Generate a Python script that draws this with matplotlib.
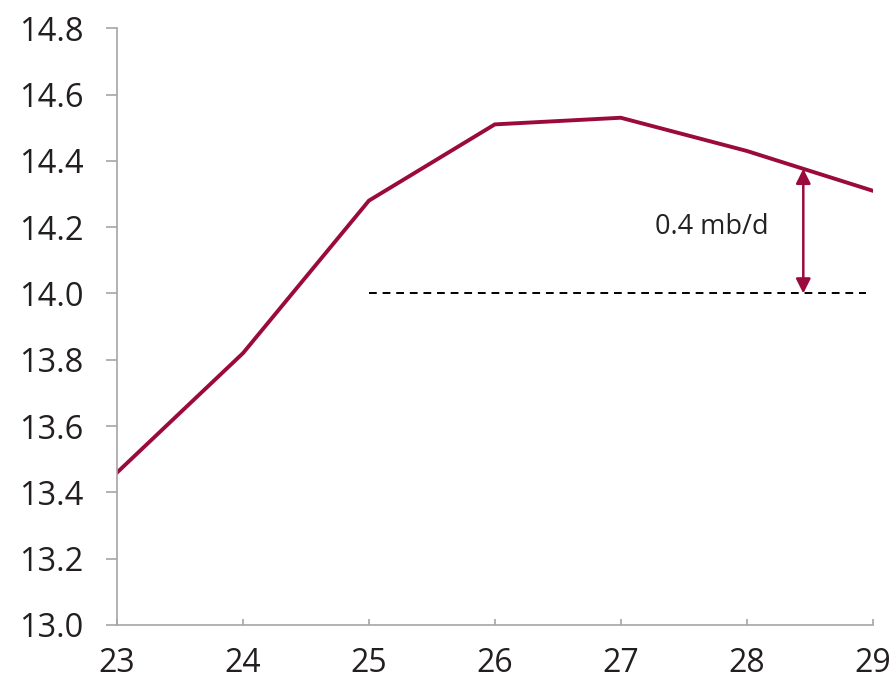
import numpy as np
import matplotlib.pyplot as plt

plt.rcParams['font.family'] = ['Open Sans', 'DejaVu Sans']

years = [23, 24, 25, 26, 27, 28, 29]
values = [13.46, 13.82, 14.28, 14.51, 14.53, 14.43, 14.31]
base_level = 14.0
base_start, base_end = 25, 28.95
arrow_x = 28.45
label = '0.4 mb/d'

red = '#9B0A3C'
grey = '#A6A6A6'

fig = plt.figure(figsize=(8.94, 6.82), dpi=100)
ax = fig.add_axes([0.131, 0.0836, 0.845, 0.875])

ax.plot(years, values, color=red, lw=2.8, solid_joinstyle='miter')
ax.plot([base_start, base_end], [base_level, base_level], color='black',
        lw=1.4, ls=(0, (4, 3)))

# arrow from base level up to the line
arrow_top = np.interp(arrow_x, years, values)
ax.annotate('', xy=(arrow_x, arrow_top), xytext=(arrow_x, base_level),
            arrowprops=dict(arrowstyle='<|-|>', color=red, lw=1.8,
                            mutation_scale=22, shrinkA=0, shrinkB=0))
ax.text(27.72, 14.2, label, fontsize=19.5, ha='center', va='center',
        color='#222222')

ax.set_xlim(23, 29)
ax.set_ylim(13.0, 14.8)
ax.set_xticks(years)
ax.set_yticks(np.arange(13.0, 14.81, 0.2))
ax.set_yticklabels([f'{v:.1f}' for v in np.arange(13.0, 14.81, 0.2)])

for s in ['top', 'right']:
    ax.spines[s].set_visible(False)
for s in ['left', 'bottom']:
    ax.spines[s].set_color(grey)
    ax.spines[s].set_linewidth(1.2)

ax.tick_params(axis='y', direction='out', length=8, width=1.2, color=grey,
               labelsize=23.5, pad=16, labelcolor='#231F20')
ax.tick_params(axis='x', direction='in', length=4, width=1.2, color=grey,
               labelsize=23, pad=16, labelcolor='#231F20')

fig.savefig('out.png', dpi=100)
